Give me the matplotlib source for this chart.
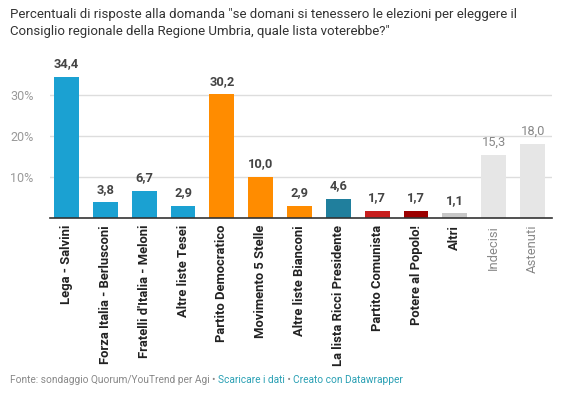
import numpy as np
import matplotlib.pyplot as plt

plt.rcParams['font.family'] = ['Roboto', 'DejaVu Sans']

categories = ["Lega - Salvini", "Forza Italia - Berlusconi", "Fratelli d'Italia - Meloni",
              "Altre liste Tesei", "Partito Democratico", "Movimento 5 Stelle",
              "Altre liste Bianconi", "La lista Ricci Presidente", "Partito Comunista",
              "Potere al Popolo!", "Altri", "Indecisi", "Astenuti"]
values = [34.4, 3.8, 6.7, 2.9, 30.2, 10.0, 2.9, 4.6, 1.7, 1.7, 1.1, 15.3, 18.0]
colors = ["#1ba1d2", "#1ba1d2", "#1ba1d2", "#1ba1d2", "#ff8c00", "#ff8c00", "#ff8c00",
          "#207f9d", "#c71e1d", "#9c0000", "#c8c8c8", "#e6e6e6", "#e6e6e6"]
muted = [False] * 11 + [True, True]
yticks = [10, 20, 30]

fig = plt.figure(figsize=(5.68, 4.0), dpi=100)
ax = fig.add_axes([50 / 568, 1 - 218 / 400, 502 / 568, 147.6 / 400])

x = np.arange(len(values))
ax.bar(x, values, width=0.64, color=colors, zorder=2)
ax.set_xlim(-0.425, len(values) - 0.5)
ax.set_ylim(0, 36)

for xi, v, m in zip(x, values, muted):
    ax.text(xi, v + 1.6, f"{v:.1f}".replace(".", ","), ha="center", va="bottom",
            fontsize=9.3, color="#888888" if m else "#444444",
            fontweight="normal" if m else "bold")

ax.set_yticks(yticks)
ax.set_yticklabels([f"{t}%" for t in yticks], fontsize=9, color="#999999")
ax.yaxis.grid(True, color="#dddddd", linewidth=1, zorder=0)
ax.tick_params(axis="y", length=0, pad=12)
ax.tick_params(axis="x", length=0, pad=5)
ax.set_xticks(x)
ax.set_xticklabels(categories, rotation=90, fontsize=9.4, va="top")
for lbl, m in zip(ax.get_xticklabels(), muted):
    if m:
        lbl.set_color("#888888")
    else:
        lbl.set_color("#222222")
        lbl.set_fontweight("bold")

for s in ["top", "right", "left"]:
    ax.spines[s].set_visible(False)
ax.spines["bottom"].set_color("#333333")
ax.spines["bottom"].set_linewidth(1.2)
ax.spines["bottom"].set_zorder(3)

fig.text(10 / 568, 1 - 8 / 400,
         "Percentuali di risposte alla domanda \"se domani si tenessero le elezioni per eleggere il\n"
         "Consiglio regionale della Regione Umbria, quale lista voterebbe?\"",
         ha="left", va="top", fontsize=9.5, color="#333333", linespacing=1.4)

fy = 1 - 380 / 400
fs = 7.3
t1 = fig.text(10 / 568, fy, "Fonte: sondaggio Quorum/YouTrend per Agi \u2022 ", fontsize=fs,
              color="#888888", va="center")
fig.canvas.draw()
bb = t1.get_window_extent()
t2 = fig.text(bb.x1 / 568, fy, "Scaricare i dati", fontsize=fs, color="#2aa0b4", va="center")
bb = t2.get_window_extent()
t3 = fig.text(bb.x1 / 568, fy, " \u2022 ", fontsize=fs, color="#888888", va="center")
bb = t3.get_window_extent()
fig.text(bb.x1 / 568, fy, "Creato con Datawrapper", fontsize=fs, color="#2aa0b4", va="center")

fig.savefig("out.png", dpi=100, facecolor="white")
